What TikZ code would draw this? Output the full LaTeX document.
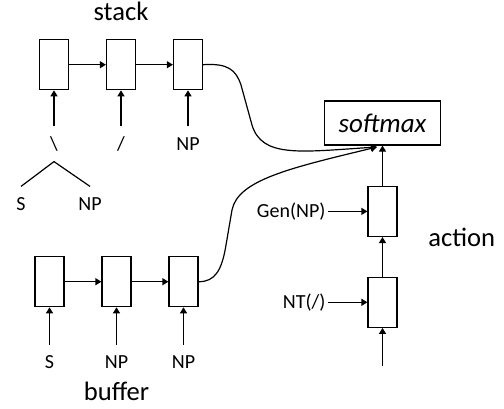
\documentclass[tikz,border=0pt]{standalone}
\usepackage{fontspec}
\setmainfont{Carlito}
\usetikzlibrary{arrows.meta}

\begin{document}
\begin{tikzpicture}[x=0.5pt,y=-0.5pt,line width=0.6pt,
            cell/.style={rectangle,draw,minimum width=14.5pt,minimum height=25pt,inner sep=0pt},
            lbl/.style={anchor=base,font=\fontsize{10}{12}\selectfont,text height=7.5pt,text depth=1.5pt,inner xsep=1pt,inner ysep=4pt},
            big/.style={anchor=base,font=\fontsize{13.3}{16}\selectfont},
            arw/.style={arrows = -{Triangle[length=3pt,width=3.5pt]}}]

            \useasboundingbox (0,0) rectangle (504,408);

            % stack
            \path   (121,20) node (stk) [big] {stack}
                    (54,64.7) node (s1) [cell] {}
                    (121,64.7) node (s2) [cell] {}
                    (188,64.7) node (s3) [cell] {}
                    (54,150) node (w1) [lbl] {\textbackslash}
                    (121,150) node (w2) [lbl] {/}
                    (188,150) node (w3) [lbl] {NP}
                    (21,210) node (t1) [lbl] {S}
                    (90,210) node (t2) [lbl] {NP};

            % buffer
            \path   (116.5,400.7) node (buf) [big] {buffer}
                    (49.5,281.7) node (b1) [cell] {}
                    (116.5,281.7) node (b2) [cell] {}
                    (183.5,281.7) node (b3) [cell] {}
                    (49.5,368.3) node (q1) [lbl] {S}
                    (116.5,368.3) node (q2) [lbl] {NP}
                    (183.5,368.3) node (q3) [lbl] {NP};

            % action
            \path   (382.5,123) node (sm) [draw,minimum width=58.2pt,minimum height=22pt,font=\fontsize{13.5}{16}\selectfont\itshape] {softmax}
                    (382.5,211.4) node (a1) [cell] {}
                    (382.5,302.3) node (a2) [cell] {}
                    (328,211.4) node (gen) [lbl,anchor=east,inner ysep=1pt] {Gen(NP)}
                    (328,302.3) node (nt) [lbl,anchor=east,inner ysep=1pt] {NT(/)}
                    (461.7,246.7) node (act) [big] {action};
            \coordinate (bot) at (382.5,366);
            \coordinate (in) at (377,147);

            \draw[arw] (s1) -- (s2);
            \draw[arw] (s2) -- (s3);
            \draw[arw] (w1) -- (s1);
            \draw[arw] (w2) -- (s2);
            \draw[arw] (w3) -- (s3);
            \draw (w1.south) -- (t1.north);
            \draw (w1.south) -- (t2.north);

            \draw[arw] (b1) -- (b2);
            \draw[arw] (b2) -- (b3);
            \draw[arw] (q1) -- (b1);
            \draw[arw] (q2) -- (b2);
            \draw[arw] (q3) -- (b3);

            \draw[arw] (bot) -- (a2);
            \draw[arw] (a2) -- (a1);
            \draw[arw] (a1) -- (sm);
            \draw[arw] (gen) -- (a1);
            \draw[arw] (nt) -- (a2);

            \draw[arw] (s3.east) .. controls (228,63) and (236,70) .. (241,85) -- (252,125) .. controls (262,158) and (300,152) .. (in);
            \draw[arw] (b3.east) .. controls (215,282) and (222,270) .. (226,245) -- (232,210) .. controls (238,180) and (290,168) .. (in);

        \end{tikzpicture}
\end{document}
